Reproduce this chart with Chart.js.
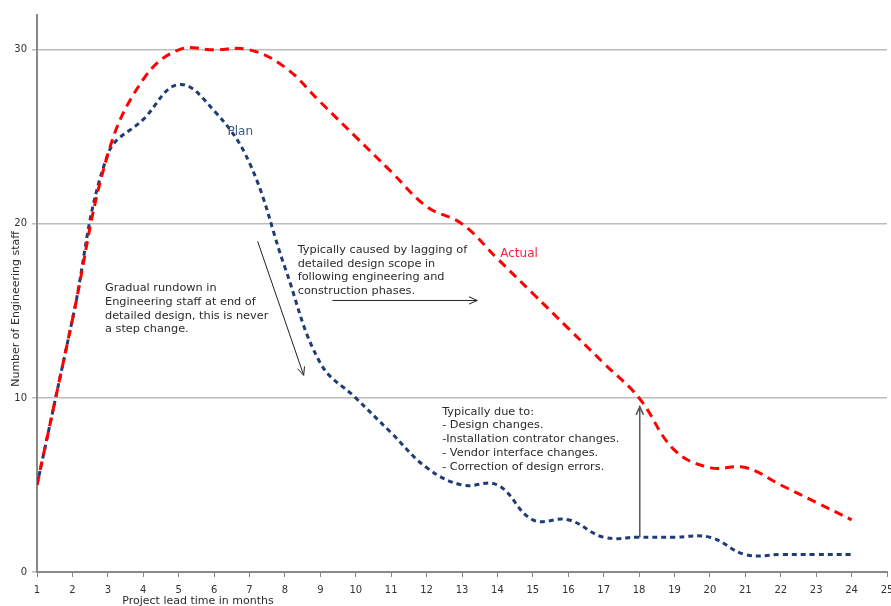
<!DOCTYPE html>
<html>
<head>
<meta charset="utf-8">
<script src="https://cdn.jsdelivr.net/npm/chart.js@4/dist/chart.umd.min.js"></script>
<style>
html,body{margin:0;padding:0;background:#fff;}
#wrap{width:891px;height:606px;position:relative;}
</style>
</head>
<body>
<div id="wrap"><canvas id="c" width="891" height="606"></canvas></div>
<script>
const months = [1,2,3,4,5,6,7,8,9,10,11,12,13,14,15,16,17,18,19,20,21,22,23,24];
const planValues = [5,14.5,24,26,28,26.5,23.5,17.5,12,10,8,6,5,5,3,3,2,2,2,2,1,1,1,1];
const actualValues = [5,14.5,24,28.3,30,30,30,29,27,25,23,21,20,18,16,14,12,10,7,6,6,5,4,3];
const xTickLabels = [1,2,3,4,5,6,7,8,9,10,11,12,13,14,15,16,17,18,19,20,21,22,23,24,25];
const yTickLabels = [0,10,20,30];
const xTitle = "Project lead time in months";
const yTitle = "Number of Engineering staff";
const seriesLabels = ["Plan", "Actual"];
const noteGradual = ["Gradual rundown in", "Engineering staff at end of", "detailed design, this is never", "a step change."];
const noteLagging = ["Typically caused by lagging of", "detailed design scope in", "following engineering and", "construction phases."];
const noteDue = ["Typically due to:", "- Design changes.", "-Installation contrator changes.", "- Vendor interface changes.", "- Correction of design errors."];

const FONT = "'DejaVu Sans', Verdana, sans-serif";

function arrow(ctx, x1, y1, x2, y2, color, w) {
  ctx.save();
  ctx.strokeStyle = color; ctx.lineWidth = w;
  ctx.beginPath(); ctx.moveTo(x1, y1); ctx.lineTo(x2, y2); ctx.stroke();
  const a = Math.atan2(y2 - y1, x2 - x1), L = 9, s = 0.42;
  ctx.beginPath();
  ctx.moveTo(x2 - L * Math.cos(a - s), y2 - L * Math.sin(a - s));
  ctx.lineTo(x2, y2);
  ctx.lineTo(x2 - L * Math.cos(a + s), y2 - L * Math.sin(a + s));
  ctx.stroke();
  ctx.restore();
}

const annotate = {
  id: 'annotate',
  afterDraw(chart) {
    const ctx = chart.ctx, xs = chart.scales.x, ys = chart.scales.y;
    const X = v => xs.getPixelForValue(v), Y = v => ys.getPixelForValue(v);
    ctx.save();
    ctx.textBaseline = 'middle';
    ctx.textAlign = 'left';
    // series labels
    ctx.font = "12px " + FONT;
    ctx.fillStyle = '#3A5A8C';
    ctx.fillText(seriesLabels[0], X(6.38), Y(25.3));
    ctx.fillStyle = '#FF2040';
    ctx.fillText(seriesLabels[1], X(14.08), Y(18.3));
    // notes
    ctx.font = "11.3px " + FONT;
    ctx.fillStyle = '#2b2b2b';
    const lh = 13.7;
    noteGradual.forEach((t, i) => ctx.fillText(t, X(2.92), Y(16.3) + i * lh));
    noteLagging.forEach((t, i) => ctx.fillText(t, X(8.36), Y(18.5) + i * lh));
    noteDue.forEach((t, i) => ctx.fillText(t, X(12.44), Y(9.2) + i * lh));
    // arrows
    arrow(ctx, X(7.23), Y(19.0), X(8.53), Y(11.3), '#222', 1);
    arrow(ctx, X(9.34), Y(15.6), X(13.43), Y(15.6), '#222', 1);
    arrow(ctx, X(18.02), Y(2.0), X(18.02), Y(9.5), '#555', 1.5);
    // axis titles
    ctx.fillStyle = '#2b2b2b';
    ctx.font = "11px " + FONT;
    ctx.textAlign = 'center';
    ctx.fillText(xTitle, 198, 601);
    ctx.translate(16, 309);
    ctx.rotate(-Math.PI / 2);
    ctx.fillText(yTitle, 0, 0);
    ctx.restore();
  }
};

new Chart(document.getElementById('c'), {
  type: 'line',
  data: {
    datasets: [
      {
        label: seriesLabels[1],
        data: months.map((m, i) => ({x: m, y: actualValues[i]})),
        borderColor: '#FF0000',
        borderWidth: 3,
        borderDash: [9, 6],
        pointRadius: 0,
        tension: 0.4,
        fill: false
      },
      {
        label: seriesLabels[0],
        data: months.map((m, i) => ({x: m, y: planValues[i]})),
        borderColor: '#1F3C74',
        borderWidth: 3,
        borderDash: [5, 4],
        pointRadius: 0,
        tension: 0.4,
        fill: false
      }
    ]
  },
  options: {
    responsive: false,
    animation: false,
    devicePixelRatio: 1,
    layout: {padding: {top: 15, right: 4, left: 0, bottom: 0}},
    plugins: {legend: {display: false}, tooltip: {enabled: false}},
    scales: {
      x: {
        type: 'linear',
        min: 1, max: 25,
        afterFit(s) { s.height = 34; s.paddingRight = 0; s.paddingLeft = 0; },
        border: {color: '#888', width: 2},
        grid: {drawOnChartArea: false, drawTicks: true, tickLength: 5, color: '#888'},
        ticks: {
          stepSize: 1,
          autoSkip: false,
          maxRotation: 0,
          padding: 7,
          color: '#333',
          font: {family: FONT, size: 10},
          callback: v => xTickLabels.includes(v) ? String(v) : ''
        }
      },
      y: {
        min: 0, max: 32,
        afterFit(s) { s.width = 37; s.paddingTop = 0; s.paddingBottom = 0; },
        border: {color: '#888', width: 2},
        grid: {color: '#BDBDBD', lineWidth: 1.5, tickLength: 5, drawTicks: true},
        ticks: {
          stepSize: 10,
          includeBounds: false,
          padding: 5,
          color: '#333',
          font: {family: FONT, size: 10},
          callback: v => yTickLabels.includes(v) ? String(v) : ''
        }
      }
    }
  },
  plugins: [annotate]
});
</script>
</body>
</html>
